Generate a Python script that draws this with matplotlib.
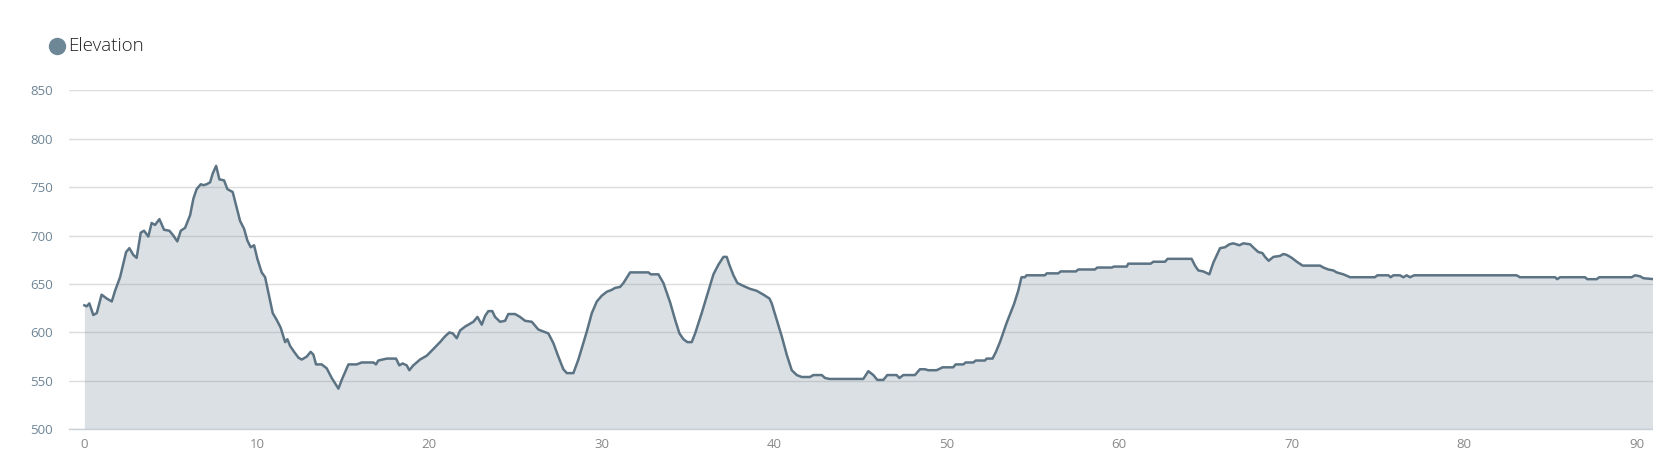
import matplotlib
matplotlib.use("Agg")
import matplotlib.pyplot as plt
from matplotlib.lines import Line2D

distance_km = [
    0, 0.14, 0.29, 0.52, 0.72, 1.0, 1.3, 1.59, 1.78, 2.07,
    2.42, 2.61, 2.84, 3.03, 3.27, 3.46, 3.71, 3.9, 4.1, 4.35,
    4.62, 4.93, 5.16, 5.39, 5.59, 5.84, 6.13, 6.32, 6.51, 6.75,
    6.9, 7.09, 7.29, 7.44, 7.64, 7.83, 8.1, 8.29, 8.6, 8.83,
    9.03, 9.26, 9.45, 9.64, 9.84, 10.03, 10.28, 10.48, 10.67, 10.92,
    11.15, 11.38, 11.64, 11.77, 11.93, 12.16, 12.41, 12.6, 12.89, 13.12,
    13.28, 13.43, 13.76, 14.05, 14.34, 14.73, 14.92, 15.31, 15.79, 16.08,
    16.76, 16.91, 17.04, 17.53, 18.07, 18.26, 18.45, 18.69, 18.84, 19.07,
    19.46, 19.85, 20.24, 20.62, 20.91, 21.16, 21.36, 21.59, 21.78, 22.07,
    22.36, 22.55, 22.79, 23.04, 23.23, 23.42, 23.65, 23.81, 24.1, 24.39,
    24.58, 24.97, 25.26, 25.55, 25.94, 26.32, 26.61, 26.9, 27.19, 27.48,
    27.77, 27.97, 28.35, 28.64, 29.13, 29.42, 29.71, 30.0, 30.29, 30.58,
    30.77, 31.06, 31.25, 31.64, 32.7, 32.84, 33.28, 33.57, 33.96, 34.25,
    34.5, 34.73, 34.96, 35.21, 35.41, 35.79, 36.18, 36.47, 36.76, 37.05,
    37.24, 37.39, 37.63, 37.86, 38.21, 38.59, 38.98, 39.37, 39.72, 39.85,
    40.14, 40.43, 40.72, 41.01, 41.3, 41.59, 42.07, 42.26, 42.75, 42.94,
    43.19, 45.16, 45.45, 45.74, 45.97, 46.32, 46.55, 47.09, 47.25, 47.48,
    48.15, 48.44, 48.73, 48.92, 49.41, 49.76, 50.37, 50.51, 50.96, 51.09,
    51.54, 51.67, 52.21, 52.31, 52.65, 52.85, 53.08, 53.47, 53.89, 54.14,
    54.33, 54.53, 54.62, 55.69, 55.79, 56.46, 56.6, 57.49, 57.62, 58.59,
    58.72, 59.56, 59.69, 60.43, 60.52, 61.82, 61.97, 62.65, 62.8, 64.19,
    64.39, 64.58, 64.87, 65.22, 65.45, 65.84, 66.13, 66.38, 66.61, 66.96,
    67.19, 67.58, 67.81, 68.06, 68.29, 68.45, 68.66, 68.93, 69.32, 69.51,
    69.71, 70.0, 70.29, 70.63, 71.64, 71.83, 72.12, 72.41, 72.6, 72.99,
    73.38, 74.82, 74.96, 75.6, 75.73, 75.89, 76.27, 76.47, 76.66, 76.85,
    77.1, 83.03, 83.23, 85.26, 85.39, 85.55, 87.0, 87.13, 87.67, 87.83,
    89.7, 89.9, 90.19, 90.38, 91.0,
]

elevation_m = [
    628, 627, 630, 618, 620, 639, 635, 632, 643, 657,
    683, 687, 680, 677, 703, 705, 699, 713, 711, 717,
    706, 705, 700, 694, 705, 708, 721, 738, 748, 753,
    752, 753, 755, 764, 772, 758, 757, 748, 745, 729,
    715, 707, 695, 688, 690, 676, 662, 657, 641, 620,
    613, 605, 590, 593, 586, 580, 574, 572, 575, 580,
    577, 567, 567, 563, 553, 542, 551, 567, 567, 569,
    569, 567, 571, 573, 573, 566, 568, 566, 561, 566,
    572, 576, 583, 590, 596, 600, 599, 594, 602, 606,
    609, 611, 616, 608, 617, 622, 622, 616, 611, 612,
    619, 619, 616, 612, 611, 603, 601, 599, 589, 575,
    562, 558, 558, 572, 601, 620, 632, 638, 642, 644,
    646, 647, 651, 662, 662, 660, 660, 651, 631, 613,
    599, 593, 590, 590, 599, 620, 643, 660, 670, 678,
    678, 670, 659, 651, 648, 645, 643, 639, 635, 630,
    613, 596, 577, 561, 556, 554, 554, 556, 556, 553,
    552, 552, 560, 556, 551, 551, 556, 556, 553, 556,
    556, 562, 562, 561, 561, 564, 564, 567, 567, 569,
    569, 571, 571, 573, 573, 580, 590, 610, 629, 643,
    657, 657, 659, 659, 661, 661, 663, 663, 665, 665,
    667, 667, 668, 668, 671, 671, 673, 673, 676, 676,
    669, 664, 663, 660, 672, 687, 688, 691, 692, 690,
    692, 691, 687, 683, 682, 678, 674, 678, 679, 681,
    680, 677, 673, 669, 669, 667, 665, 664, 662, 660,
    657, 657, 659, 659, 657, 659, 659, 657, 659, 657,
    659, 659, 657, 657, 655, 657, 657, 655, 655, 657,
    657, 659, 658, 656, 655,
]

x_ticks = [0, 10, 20, 30, 40, 50, 60, 70, 80, 90]
y_ticks = [500, 550, 600, 650, 700, 750, 800, 850]
series_name = "Elevation"

plt.rcParams['font.family'] = ['Open Sans', 'DejaVu Sans']

W, H = 1653, 473
fig = plt.figure(figsize=(W / 100, H / 100), dpi=100)
ax = fig.add_axes([69 / W, 1 - 429.3 / H, 1 - 69 / W, (429.3 - 90.3) / H])

line_color = '#5c7384'
ax.fill_between(distance_km, elevation_m, 500, color='#6e8796', alpha=0.25,
                linewidth=0, zorder=2)
ax.plot(distance_km, elevation_m, color=line_color, linewidth=1.8, zorder=3)

ax.set_xlim(-0.89, 90.94)
ax.set_ylim(500, 850)
ax.set_xticks(x_ticks)
ax.set_yticks(y_ticks)
ax.set_xticklabels([str(v) for v in x_ticks])
ax.set_yticklabels([str(v) for v in y_ticks])

ax.grid(axis='y', color='#dddddd', linewidth=1.0, zorder=1)
ax.grid(axis='x', visible=False)
ax.set_axisbelow(True)
for s in ['top', 'right', 'left']:
    ax.spines[s].set_visible(False)
ax.spines['bottom'].set_color('#c8d0da')
ax.spines['bottom'].set_linewidth(1.0)

ax.tick_params(axis='both', length=0)
ax.tick_params(axis='y', pad=11.5, labelsize=9.5, labelcolor='#6e8596')
ax.tick_params(axis='x', pad=6.5, labelsize=9.5, labelcolor='#888888')

# legend (manual)
fig.add_artist(Line2D([57 / W], [1 - 46 / H], marker='o', markersize=11.5,
                      color='#6e8796', linestyle='none',
                      transform=fig.transFigure))
fig.text(68.5 / W, 1 - 46 / H, series_name, fontsize=13.5, color='#222222',
         fontweight='light', va='center', ha='left')

fig.savefig('out.png', dpi=100)
